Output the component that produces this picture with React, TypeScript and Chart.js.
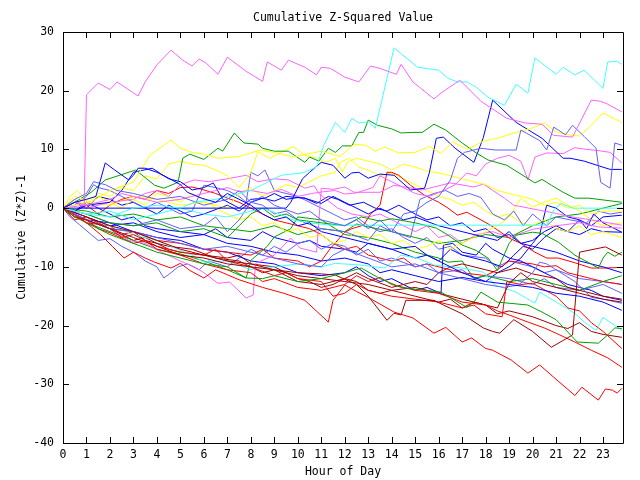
import React, { useEffect, useRef } from "react";
import { Chart, registerables } from "chart.js";

Chart.register(...registerables);

// ---- axis setup ----
const X_MIN = 0;
const X_MAX = 23.85;
const Y_MIN = -40;
const Y_MAX = 30;
const TITLE = "Cumulative Z-Squared Value";
const X_TITLE = "Hour of Day";
const Y_TITLE = "Cumulative (Z*Z)-1";

// ---- series: [hour, value] ----
const magenta1 = [[0,0],[0.9,0.5],[1,19.3],[1.5,21.3],[2,20.2],[2.3,21.5],[3.2,19.1],[3.5,21.5],[4,24.4],[4.6,26.9],[5.1,25.2],[5.5,24.2],[5.8,25.4],[6.1,24.7],[6.6,22.8],[7,25.7],[7.8,23.3],[8.5,21.6],[8.7,24.9],[9.3,23.5],[9.6,25.2],[10.3,24.0],[10.8,22.7],[11,24],[11.4,23.8],[12,22.3],[12.6,21.5],[13.1,24.2],[13.5,23.8],[14.2,22.8],[14.4,24.5],[14.9,21.5],[15.8,18.6],[16.1,19.6],[16.9,21.8],[17.8,18.2],[18.9,15.3],[19.7,14.5],[20.4,14.3],[20.9,12.4],[21.7,12.1],[22.5,18.4],[22.9,18.2],[23.2,17.7],[23.8,16.4]];
const magenta2 = [[0,0],[0.5,1],[1,0.5],[2,1.5],[2.5,2.5],[3,2],[4,1],[5,1.5],[6,2.5],[6.5,3],[7,3.5],[7.5,2.8],[8,3],[8.7,2.5],[9.3,3.2],[10,2],[10.6,2.5],[11.1,2.8],[11.6,3],[12,2.4],[12.5,2.6],[13.2,3.5],[13.5,5.5],[14,4.5],[14.5,3.5],[15,2.5],[15.6,2],[16.2,3],[16.7,4],[17.2,6],[17.6,5.5],[18,7.5],[18.5,8.5],[19,9],[19.5,8],[19.8,4.8],[20.1,8.7],[20.6,9.4],[21.3,9.3],[21.8,10.3],[22.3,10],[22.8,9.8],[23.3,9.5],[23.8,7.7]];
const magenta3 = [[0,0],[0.5,-1],[1,-2],[2,-3.5],[2.8,-5.5],[3.5,-6],[4.2,-7.5],[5,-9],[5.6,-10],[6,-11],[6.6,-12.8],[7.1,-12.6],[7.8,-15.3],[8.1,-14.8],[8.2,-9.4],[9,-8],[9.7,-5.1],[10.1,-6.8],[10.8,-7.5],[11,3.4],[11.5,3.2],[12,3.6],[12.4,2.7],[13.5,2.7],[14.1,3.9],[15.3,3.1],[16.5,4.3],[17.5,3.6],[17.9,4.1],[18.8,1.7],[19.2,0.5],[21,-0.9],[21.7,-1.5],[22.5,-2],[23.8,-2.9]];
const magenta4 = [[0,0],[0.5,1.5],[1,0],[2,1],[3,1.5],[3.5,2.5],[4,3],[4.5,2],[5,4],[5.6,4.8],[6.2,4.5],[7,5],[7.8,5.6],[8.3,4.5],[9,5],[9.6,4.8],[10.3,3.4],[10.7,3.8],[10.9,2.5],[11.7,0],[12.3,-1],[13,-1.5],[13.5,-1],[14,-2],[14.5,-3],[15,-4],[15.5,-3],[16,-5],[16.5,-4.5],[17,-6],[17.6,-4.5],[18.3,-4],[19,-5],[20,-3.6],[21,-3],[22,-2.5],[22.8,-3.2],[23.8,-3.4]];

const cyan1 = [[0,0],[1,-1],[2,-1.5],[3,0],[4,0.5],[5,0],[5.6,1],[6.5,1.5],[7,2],[8,3],[8.5,4],[9.3,5.6],[10.2,6],[10.8,7],[11.1,10.7],[11.6,14.6],[12,12.9],[12.3,15.3],[12.6,14.5],[13,14.7],[13.3,13.6],[14.1,27.3],[15.1,24.0],[16,23.5],[16.4,22.1],[16.8,21.5],[17.2,21.5],[17.6,20.6],[18.1,18.9],[18.8,17.5],[19.3,21.1],[19.8,19.6],[20.1,25.6],[21,22.8],[21.3,24],[21.8,22.7],[22.2,23.5],[23,20.4],[23.2,24.9],[23.6,25],[23.8,24.5]];
const cyan2 = [[0,0],[1,-1],[2,-0.5],[3,-2],[4,-1],[5,0],[6,-1],[7,-1.5],[8,-0.5],[8.5,0],[9.2,-1],[9.8,-2],[10.5,-2.5],[11.4,-2.9],[20.6,-2.9],[20.9,-0.3],[21.2,0.8],[21.7,0],[23.8,0]];
const cyan3 = [[0,0],[0.5,-1.5],[1,-2],[2,-3],[3,-4.5],[4,-5.5],[5,-7.2],[5.5,-8],[6,-9.2],[7,-9],[8,-10.5],[8.3,-10.2],[9,-10],[10,-9.5],[10.4,-9.7],[11,-10],[11.6,-9.4],[12.7,-9.7],[13.7,-10.2],[14.4,-8],[15.1,-8.5],[15.8,-9.7],[17,-10.2],[17.9,-10.9],[18.4,-13.1],[19.3,-14.3],[20.1,-16.2],[20.3,-14.3],[21.8,-17.9],[22.2,-19.4],[22.7,-20.8],[23,-18.6],[23.8,-20.8]];

const green1 = [[0,0],[0.5,1],[1.2,2.7],[1.8,4.8],[3.1,6.5],[3.9,3.9],[4.3,3.4],[4.9,4.4],[5.1,8.5],[5.4,9.2],[6,8.3],[6.6,10.2],[6.8,9.7],[7.3,12.8],[7.7,11.1],[8.3,10.9],[8.5,10.2],[9,9.7],[9.6,9.7],[10.3,7.8],[10.5,8.7],[10.9,8.0],[11.3,10.2],[11.6,9.5],[11.9,10.6],[12.3,10.6],[12.6,12.9],[12.8,12.9],[13,15.0],[13.4,14.1],[14,13.5],[14.4,12.8],[14.9,12.9],[15.3,12.9],[15.8,14.3],[16.3,13.3],[17,11.1],[17.6,9.4],[18.1,8.2],[18.9,7.3],[20.1,4.3],[20.4,4.9],[20.8,3.9],[21.3,2.7],[21.8,1.7],[22.4,1.7],[23,1.4],[23.8,1.0]];
const green2 = [[0,0],[0.5,-1.5],[1,-2.5],[2,-4.5],[3,-6],[4,-7.5],[5,-8.5],[6,-9.5],[7,-10],[7.8,-11.9],[8.5,-12],[9,-11.5],[10,-12.5],[11,-12],[12,-11],[12.7,-10.2],[13.5,-12],[14.4,-13.5],[15,-13.8],[16.1,-14.3],[17.2,-16.9],[17.5,-16],[17.8,-14.3],[18.5,-16],[19.8,-16.5],[20.4,-17.7],[21,-19],[21.9,-22.8],[22.8,-23],[23.2,-21.6],[23.5,-20.4],[23.8,-20.5]];
const green3 = [[0,0],[1,-1],[2,-2.5],[3,-3],[4,-2.5],[5,-4],[6,-3.5],[7,-5],[7.5,-3],[8,-1],[8.5,0],[9,-1.5],[9.5,-1],[10,-2],[11,-2.5],[12,-3],[12.7,-1.5],[13.5,-2.2],[14,-1.8],[15,-2.5],[15.9,-3.4],[16.4,-4.6],[17,-6.3],[17.6,-7.2],[18.1,-8.5],[18.5,-10.6],[19,-6],[19.3,-4.6],[20,-4.1],[20.4,-4.3],[21.1,-5.8],[21.8,-8],[22.8,-10.2],[23,-8.5],[23.2,-7.5],[23.5,-8.2],[23.8,-7.5]];
const green4 = [[0,0],[0.5,-1],[1,-2.5],[2,-4],[3,-5.5],[4,-7],[5,-7.8],[6,-9],[7,-10.5],[7.8,-11.9],[8,-8.9],[8.7,-6.5],[9,-4.9],[9.7,-3.5],[10,-1.5],[11,-2],[11.6,-3.5],[12,-4.5],[13,-5],[14,-6],[15,-7.5],[16,-8.5],[16.4,-9.2],[17,-9],[17.5,-12],[18,-11.5],[19,-12.5],[20,-12],[21,-13],[22,-14],[23,-12.5],[23.8,-11.5]];
const green5 = [[0,0],[1,-0.5],[2,-1.5],[3,-1],[4,-2],[5,-1.5],[6,-3],[7,-3.5],[8,-4],[9,-3],[10,-4.5],[11,-3.5],[12,-4],[12.5,-2.7],[13,-3.2],[14,-4],[15,-5],[16,-6],[17,-5.5],[18,-4.5],[19,-5],[20,-3],[21,-1.5],[22,-1],[23,0],[23.8,0.8]];

const blue1 = [[0,0],[9.5,0],[9.7,1],[10.2,5],[10.5,6.1],[11,7.8],[11.5,7.3],[12,5.1],[12.3,6],[12.6,6.1],[13,5.1],[13.5,5.8],[14.1,5.6],[14.8,3.1],[15.4,3.4],[15.6,6],[15.9,11.9],[16.2,12.1],[16.7,10.2],[17.5,7.8],[17.9,12],[18.3,18.4],[19.3,14.6],[20.4,11.9],[21.3,8.5],[21.6,8.5],[22.2,8],[23.3,6.6],[23.8,6.6]];
const blue2 = [[0,0],[0.5,1],[1,1.5],[1.4,2],[1.8,7.7],[2.2,6.5],[2.8,4.8],[3,5.6],[3.2,6.8],[3.5,6.8],[4,6.1],[4.5,5.1],[5,4],[5.3,2.7],[5.9,1.7],[6.5,1],[7,2.5],[7.5,1.5],[8,0.5],[8.5,-1],[9,-2],[9.5,-1.5],[10,-3],[10.5,-2.5],[11,-4],[12,-5],[13,-6],[14,-7],[15,-6.5],[15.5,-8],[16,-9],[17,-11],[18,-12.5],[19,-13],[20,-13.5],[21,-14.5],[22,-15],[23,-16],[23.8,-17.4]];
const blue3 = [[0,0],[0.5,-0.5],[1,0.5],[2,1],[2.5,3],[3,6.1],[3.8,6.8],[4.5,5],[5,4.5],[5.5,3.1],[6,3.5],[6.4,4.3],[6.8,1.5],[7.5,0],[8,1.5],[8.6,1.7],[9,2.5],[9.5,1.5],[10,1.8],[10.3,1.7],[11,0.8],[11.5,2],[12,1],[13,-1],[13.5,0],[14,-1],[14.5,-2],[15,-1.5],[16,-3],[16.5,-3.5],[17,-4],[18,-5],[18.5,-5.5],[19,-4],[19.5,-6],[20,-6.5],[21,-7.5],[22,-9],[23,-10],[23.8,-11]];
const blue4 = [[0,0],[0.5,-1],[1,-2],[2,-2.5],[3,-4],[4,-5],[5,-5.5],[6,-7],[7,-7.5],[8,-9],[9,-9.5],[10,-11],[11,-11.5],[12,-11],[12.5,-10],[13,-11.5],[13.5,-12.5],[14,-12],[14.5,-13],[15,-14],[15.5,-13.5],[16.1,-14.5],[16.2,-6.3],[16.6,-6],[17,-7.5],[17.6,-8],[18,-6],[18.3,-7],[19,-8.5],[19.5,-9],[20,-10],[20.5,-11],[21,-12],[21.5,-13],[22,-13.5],[22.5,-14],[23,-15],[23.8,-15.7]];
const blue5 = [[0,0],[0.5,-0.5],[1,1],[1.5,0],[2,-1],[2.5,-2],[3,-1.5],[3.5,-3],[4,-3.5],[5,-4],[6,-4.5],[6.5,-3.5],[7,-5],[8,-5.5],[8.5,-4],[9,-5],[10,-6],[10.5,-5.5],[11,-6.5],[12,-7],[12.5,-7.5],[13,-6],[14,-7],[15,-8.5],[15.5,-8],[16,-9],[16.5,-7],[17,-8],[18,-9],[18.7,-10],[19.2,-8],[19.6,-6.5],[20,-7],[20.5,-5],[21,-3.5],[21.5,-4],[22,-2],[22.5,-3],[23,-1.5],[23.8,-1.2]];
const blue6 = [[0,0],[1,-1.5],[2,-3],[3,-2.5],[4,-4],[5,-5],[6,-4.5],[7,-6],[8,-6.5],[9,-7.5],[10,-8],[11,-9],[12,-8.5],[13,-9.5],[13.5,-11],[14,-10.5],[15,-11.5],[16,-12.5],[17,-11.8],[18,-12.5],[18.5,-11],[19,-10],[19.5,-8.5],[20,-6],[20.3,-4.5],[20.6,0.5],[21,0],[21.5,-1.5],[22,-2],[22.3,-3.5],[22.6,-1],[23,-2.5],[23.5,-3.5],[23.8,-4.1]];
const blue7 = [[0,0],[0.5,1],[1,0],[1.5,2],[2,1.5],[2.5,0.5],[3,1],[3.5,0],[4,-1],[4.5,0.5],[5,-0.5],[5.5,-1.5],[6,-1],[7,0.5],[7.5,-0.5],[8,1],[8.5,1.7],[9,1.2],[9.5,2],[10.3,1.7],[10.8,0.8],[11.3,2],[11.7,1.5],[12.2,0.5],[12.8,1],[13.3,0],[13.8,-0.5],[14.3,0.5],[15,-1],[15.5,-2],[16,-1.5],[16.5,-3],[17,-2.5],[17.5,-4],[18,-3.5],[18.5,-5],[19,-4.5],[19.5,-6],[20,-5.5],[20.5,-4],[21,-3],[21.5,-4],[22,-4.5],[22.5,-3.5],[23,-4],[23.8,-4.1]];

const lightblue1 = [[0,0],[0.5,1.5],[1,2.5],[1.3,4.5],[1.8,4],[2.3,3],[3,2.5],[4,1.5],[5,2],[6,0.5],[7,1.5],[7.5,3],[8,1],[8.5,2],[9,0.5],[10,-1],[10.5,-0.5],[11,-2],[12,-3],[12.5,-2],[13,-3.5],[13.5,-2],[14,-4],[14.5,-1],[15,-0.5],[15.5,1],[16,2],[16.5,4.8],[16.8,8.5],[17.1,9.5],[17.8,10.2],[18.4,9.9],[19.3,9.9],[19.5,13.3],[20.3,11.5],[20.6,9.9],[20.9,13.8],[21.4,12.5],[21.7,14.1],[22.2,12.2],[22.7,10.2],[22.9,4.4],[23.3,3.4],[23.5,11.1],[23.8,10.7]];
const lightblue2 = [[0,0],[1,-2],[2,-3.5],[3,-4],[4,-5],[5,-6],[6,-7],[7,-6.5],[8,-7.5],[9,-8.5],[10,-9.5],[11,-10],[11.5,-8],[12,-7],[13,-8.5],[14,-10],[15,-9.5],[16,-11],[17,-12],[18,-13],[18.8,-13.5],[19.4,-13.1],[20,-11],[20.3,-9.2],[20.6,-9.5],[21,-10.5],[21.8,-12.5],[22.5,-15.2],[23,-15.5],[23.8,-16.2]];
const lightblue3 = [[0,0],[1,-1],[2,-2.5],[3,-3],[4,-2],[5,-3.5],[6,-3],[6.5,-1.5],[7,-4],[7.5,-2],[8,1],[8.5,0.5],[9,-1],[9.5,-0.5],[10,-2],[11,-3.5],[12,-4],[13,-5.5],[13.5,-3],[14,-4],[14.8,-5],[15.2,1.5],[15.8,2.5],[16.3,3],[16.8,2],[17.3,2.5],[17.8,1.8],[18.3,-1],[18.8,-2],[19.2,-0.5],[19.6,-3],[20,-1],[20.6,-3],[21,-1.5],[21.6,-2],[22.3,-2.5],[22.8,-0.5],[23.3,-1],[23.8,-0.7]];
const lightblue4 = [[0,0],[0.3,-1.5],[0.7,-2.8],[1.2,-4.5],[1.5,-5.5],[2,-5.2],[2.5,-6.5],[3,-7.5],[3.5,-9],[4,-10],[4.3,-11.9],[4.6,-11],[4.9,-10],[5.3,-9.5],[5.8,-10.5],[6.2,-9],[7,-10],[7.5,-8.5],[8,-7],[8.5,-8],[9,-6.5],[9.5,-7.5],[10,-6],[10.5,-5.5],[11,-7],[11.5,-6],[12,-6.5],[12.5,-8],[13,-7],[13.5,-9],[14,-8.5],[15,-10],[15.5,-9.5],[16,-11],[17,-10.5],[17.5,-12],[18,-11.5],[19,-12],[20,-13],[20.5,-12],[21,-13.5],[22,-14],[23,-13],[23.8,-14.5]];
const lightblue5 = [[0,0],[0.5,0.5],[1,2],[1.3,4],[1.5,3.5],[2,3],[2.5,2],[3,1],[3.5,0],[4,1],[4.5,0],[5,-1],[5.5,-0.5],[6,3.9],[6.5,3.5],[7,3],[7.5,2],[7.8,1],[8,6.1],[8.3,5.5],[8.6,6.5],[9,3],[9.5,2.5],[10,2],[10.5,1],[11,0],[11.5,-1],[12,-2],[12.5,-1.5],[13,-3],[13.5,-4],[14,-3.5],[14.5,-5],[15,-6],[15.5,-5],[16,-7],[16.5,-6.5],[17,-8],[18,-8.5],[18.5,-10],[19,-9],[20,-10],[20.5,-11],[21,-10.5],[22,-12],[23,-12.5],[23.8,-13]];

const red1 = [[0,0],[0.5,-1.2],[1,-2.5],[1.6,-4.5],[2.1,-6.5],[2.6,-8.5],[3,-7.5],[3.5,-8.5],[3.9,-9.2],[4.6,-10.2],[5,-9.4],[5.4,-10.6],[6,-11.9],[6.5,-10.5],[7.5,-12.2],[8.5,-13.5],[9.4,-14.5],[10.3,-15.7],[11.3,-19.4],[11.5,-15.7],[12,-13.1],[12.5,-14.2],[13,-15.2],[14.1,-17.7],[14.9,-18.7],[15.8,-21.3],[16.3,-20.3],[17,-22.8],[17.4,-22.1],[18,-23.9],[18.3,-24.2],[19.1,-25.9],[19.8,-28.1],[20.3,-26.7],[20.9,-28.8],[21.8,-31.9],[22.1,-30.5],[22.8,-32.7],[23.1,-30.8],[23.4,-31],[23.6,-31.5],[23.8,-30.7]];
const red2 = [[0,0],[0.5,-1.5],[1,-2],[1.5,-3.5],[2,-4.2],[3,-6],[3.5,-5.5],[4,-7],[5,-8],[6,-9.5],[7,-10.5],[8,-11],[8.5,-12.5],[9,-12],[10,-13.5],[11,-14],[12,-13],[12.5,-11.5],[13,-12.5],[13.5,-11.8],[14,-13],[15,-14],[16,-14.5],[17,-16],[18,-16.5],[18.5,-17.5],[19,-18.2],[19.8,-19.4],[20.5,-20.4],[21,-21.3],[21.8,-22.8],[22.5,-24.2],[23.2,-25.5],[23.8,-27.1]];
const red3 = [[0,0],[0.5,-2],[1,-1.5],[2,-3.5],[2.5,-5],[3,-4.5],[4,-6.5],[5,-7.5],[6,-8],[6.5,-7],[7,-9],[8,-10],[9,-11.5],[9.5,-11],[10,-12],[11,-12.5],[11.5,-15],[12,-14.5],[12.5,-13],[13,-14],[14,-15],[15,-15.5],[16,-16],[17,-17],[17.5,-16.5],[18,-18],[18.7,-18.5],[18.9,-12.5],[19.5,-13],[20,-12.8],[21,-15],[21.5,-17],[22,-17.5],[22.5,-19.5],[23,-21],[23.8,-23.9]];
const red4 = [[0,0],[0.5,-1],[1,-2.5],[2,-3],[2.5,-4.5],[3,-4],[4,-5.5],[5,-6],[6,-7],[7,-7.5],[8,-8],[8.5,-7],[9,-8.5],[10,-9],[10.5,-10],[11,-9],[11.4,-6.8],[12,-4.1],[12.3,-3.5],[12.8,-2.9],[13.1,-1],[13.5,0.5],[13.8,6.1],[14,6.1],[14.3,5.6],[14.8,3.9],[15.4,2.2],[16,1],[16.4,0],[16.8,-1.2],[17.2,-0.7],[17.8,-2],[18.2,-2.9],[18.5,-3.7],[19,-5.1],[19.5,-6],[20.1,-7.5],[20.6,-8.5],[21.1,-8.5],[21.8,-9.3],[22.5,-10.2],[23,-10.2],[23.8,-10.1]];
const red5 = [[0,0],[0.5,-0.5],[1,0.5],[1.5,-1],[2,0.5],[2.5,1.5],[3,2],[3.5,1.5],[4,3],[4.5,2.5],[5,3.5],[5.5,3.6],[6,3.1],[6.5,2.5],[7,1.7],[7.5,1],[8,0],[8.5,-1],[9,-2],[10,-3],[10.5,-3.5],[11,-4.5],[11.5,-6],[12,-7],[12.5,-6.5],[13,-8],[14,-9],[14.5,-8.5],[15,-10],[15.5,-9.5],[16,-10],[17,-11],[18,-11.5],[18.5,-10.5],[19,-9],[20,-9.5],[20.5,-10],[21,-9.8],[21.5,-11],[22,-11.5],[22.5,-12],[23,-12.5],[23.8,-13]];

const darkred1 = [[0,0],[0.5,-1.5],[1,-2],[2,-3.5],[3,-5],[4,-6.5],[5,-8],[6,-8.5],[7,-9.5],[8,-10],[9,-10.5],[10,-11],[11,-11.2],[11.6,-11.4],[12.5,-13],[13,-15],[13.8,-19.1],[14.1,-17.9],[14.4,-18.2],[14.6,-15.7],[15.8,-15.7],[16.2,-16.5],[17,-18],[17.9,-20.4],[18.3,-21],[18.6,-21.3],[19.2,-19],[20,-21],[20.8,-23.7],[21.7,-21.6],[22,-7.5],[23.1,-6.6],[23.8,-8]];
const darkred2 = [[0,0],[1,-1.5],[2,-3],[3,-4],[4,-5.5],[5,-7],[6,-8],[7,-9],[8,-9.5],[9,-10.5],[10,-11.5],[11,-12],[12,-12.5],[13,-13],[14,-14],[15,-13.5],[16,-14.5],[17,-15.5],[18,-16.5],[18.5,-17],[19,-12.8],[19.5,-11],[20,-12.5],[21,-13.5],[22,-14.5],[23,-15.5],[23.8,-16]];
const darkred3 = [[0,0],[1,-2],[2,-3.5],[3,-4],[3.5,-5.5],[4.5,-6.5],[5.5,-7],[6.5,-8.5],[7.5,-9],[8.5,-11],[9,-10.5],[10,-12.5],[11,-13],[12,-12],[12.5,-11],[13,-12],[14,-13.5],[15,-12.5],[15.5,-13],[16,-11],[16.5,-10],[17,-9.5],[18,-10.5],[18.5,-11],[19.3,-10.2],[20,-11.2],[21,-12],[21.5,-13.5],[22,-14],[23,-15],[23.8,-15.5]];
const darkred4 = [[0,0],[0.5,-1],[1,-2],[2,-3.5],[3,-5.5],[3.5,-5],[4,-6],[4.5,-7],[5,-7.5],[6,-8],[7,-8.5],[7.5,-8],[8,-9.5],[9,-10],[9.5,-11],[10,-12],[10.5,-12.5],[11,-13.5],[11.5,-13],[12,-12],[12.5,-12.5],[13,-14],[13.5,-14.5],[14,-14],[15,-15],[15.5,-15.5],[16,-16],[16.5,-15.5],[17,-17],[17.5,-16],[18,-16.5],[18.5,-18],[19,-17.5],[20,-18.5],[21,-20],[21.5,-20.5],[22,-19.5],[22.5,-21],[23,-21.5],[23.8,-22]];

const yellow1 = [[0,0],[0.5,2],[1.2,1],[2,3],[3,4.4],[3.7,9],[4.6,11.6],[5,10.2],[5.5,9.5],[6,9.2],[6.6,8.5],[7.5,8.8],[8.4,9.9],[9,9.5],[9.8,8.7],[10.4,9.2],[11,9.7],[11.8,8.8],[12.4,10.9],[12.9,10.7],[13.3,9.7],[13.7,10.4],[14.3,9.4],[15,9.5],[15.6,10.5],[16.1,9.3],[16.6,11.3],[17.2,10],[17.9,11.4],[18.6,12],[19.2,12.8],[19.9,13.5],[20.5,14.5],[21,13],[21.5,12.5],[22,12.3],[22.5,14.1],[23,16.2],[23.8,14.6]];
const yellow2 = [[0,0],[0.5,1.5],[1,0.5],[1.5,2.5],[2,2],[2.5,3.5],[3,3],[3.5,5.5],[4,5],[4.5,7.5],[5,8],[5.5,7.5],[6,7.3],[6.5,6.5],[7,5.5],[7.5,3.5],[8,6],[8.3,9.6],[8.8,8.5],[9.3,9.5],[9.8,10.5],[10.3,9],[10.8,8.5],[11.2,7.8],[11.6,8.5],[11.9,6.1],[12.1,7.8],[12.5,8.5],[13,8],[13.5,7.5],[14,6.5],[14.5,7.5],[15,7],[15.5,6.3],[16,6],[16.5,5.5],[17,5],[17.5,4.5],[18,4],[18.5,3],[19,2.5],[19.5,2],[20,1.5],[20.5,0.5],[21,1],[21.5,0],[22,0.5],[22.5,-1],[23,-0.5],[23.8,-0.5]];
const yellow3 = [[0,0],[0.3,2],[0.6,3],[1,1.5],[1.5,2],[2,1],[2.5,0],[3,1.5],[3.5,0.5],[4,2.5],[4.5,2],[5,1],[5.5,2.5],[6,1.5],[6.5,0],[7,-1],[7.5,-2],[8,-1.5],[8.5,-3],[9,-2.5],[9.5,-4],[10,-3.5],[10.5,-5],[11,-4.5],[11.5,-6],[12,-5.5],[12.5,-4],[13,-5],[13.5,-4.5],[14,-6],[14.5,-5.5],[15,-7],[15.5,-6.5],[16,-5.5],[16.5,-7],[17,-6],[17.5,-5],[18,-4],[18.5,-3],[19,-1.5],[19.5,1.7],[20,0.2],[20.5,1],[21,1.7],[21.5,0.5],[22,-0.5],[22.5,-2],[23,-3],[23.8,-2.5]];
const yellow4 = [[0,0],[1,1],[2,0.5],[3,2],[4,1.5],[5,0.5],[6,1],[7,0],[7.5,2.5],[8,3.5],[8.5,2],[9,3],[9.5,4],[10,3.5],[10.5,4.5],[11,5.5],[11.6,6.1],[11.8,7.8],[12.2,8.5],[12.6,7],[13,6.5],[13.5,5.5],[14,6],[14.5,5],[15,4],[15.5,3],[16,2],[16.5,1.5],[17,0.5],[17.5,1],[18,-0.5],[18.5,-1.5],[19,-1],[19.5,-2.5],[20,-3],[20.5,-2],[21,-3.5],[21.5,-4],[22,-3],[22.5,-4.5],[23,-4],[23.8,-5]];

// ---- colours ----
const RED = "#ff0000";
const GREEN = "#00a000";
const BLUE = "#0000ff";
const MAGENTA = "#ff60ff";
const CYAN = "#40ffff";
const DARKRED = "#a00000";
const LIGHTBLUE = "#6060ff";
const YELLOW = "#ffff00";

const SERIES: [number[][], string][] = [
  [red1, RED], [green2, GREEN], [blue2, BLUE], [magenta1, MAGENTA], [cyan1, CYAN], [darkred1, DARKRED], [lightblue1, LIGHTBLUE], [yellow1, YELLOW],
  [red2, RED], [green1, GREEN], [blue1, BLUE], [magenta2, MAGENTA], [cyan2, CYAN], [darkred2, DARKRED], [lightblue2, LIGHTBLUE], [yellow2, YELLOW],
  [red3, RED], [green3, GREEN], [blue3, BLUE], [magenta3, MAGENTA], [cyan3, CYAN], [darkred3, DARKRED], [lightblue3, LIGHTBLUE], [yellow3, YELLOW],
  [red4, RED], [green4, GREEN], [blue4, BLUE], [magenta4, MAGENTA], [darkred4, DARKRED], [lightblue4, LIGHTBLUE], [yellow4, YELLOW],
  [red5, RED], [green5, GREEN], [blue5, BLUE], [lightblue5, LIGHTBLUE], [blue6, BLUE], [blue7, BLUE],
];

const FONT = "'DejaVu Sans Mono', 'Liberation Mono', monospace";

const framePlugin = {
  id: "gnuplotFrame",
  afterDraw(chart: any) {
    const { ctx, chartArea } = chart;
    const { left, right, top, bottom } = chartArea;
    const xs = chart.scales.x;
    const ys = chart.scales.y;
    ctx.save();
    ctx.strokeStyle = "#000";
    ctx.lineWidth = 1;
    ctx.beginPath();
    ctx.rect(Math.round(left) + 0.5, Math.round(top) + 0.5, Math.round(right - left), Math.round(bottom - top));
    const TL = 6;
    xs.ticks.forEach((t: any) => {
      const px = Math.round(xs.getPixelForValue(t.value)) + 0.5;
      ctx.moveTo(px, bottom);
      ctx.lineTo(px, bottom - TL);
      ctx.moveTo(px, top);
      ctx.lineTo(px, top + TL);
    });
    ys.ticks.forEach((t: any) => {
      const py = Math.round(ys.getPixelForValue(t.value)) + 0.5;
      ctx.moveTo(left, py);
      ctx.lineTo(left + TL, py);
      ctx.moveTo(right, py);
      ctx.lineTo(right - TL, py);
    });
    ctx.stroke();
    // chart title
    ctx.fillStyle = "#000";
    ctx.font = `11.5px ${FONT}`;
    ctx.textAlign = "center";
    ctx.textBaseline = "middle";
    ctx.fillText(TITLE, (left + right) / 2, 18);
    ctx.restore();
  },
};

export default function App() {
  const ref = useRef<HTMLCanvasElement | null>(null);
  useEffect(() => {
    if (!ref.current) return;
    const datasets = SERIES.map(([pts, color], i) => ({
      label: `s${i}`,
      data: pts.map(([x, y]) => ({ x, y })),
      borderColor: color,
      backgroundColor: color,
      borderWidth: 1,
      pointRadius: 0,
      tension: 0,
      fill: false,
    }));
    const chart = new Chart(ref.current, {
      type: "line",
      data: { datasets },
      options: {
        animation: false,
        responsive: false,
        devicePixelRatio: 1,
        layout: { padding: { left: 0, right: 17, top: 32, bottom: 0 } },
        plugins: { legend: { display: false }, tooltip: { enabled: false }, title: { display: false } },
        scales: {
          x: {
            type: "linear",
            min: X_MIN,
            max: X_MAX,
            grid: { display: false, drawTicks: false },
            border: { display: false },
            afterBuildTicks: (s: any) => { s.ticks = s.ticks.filter((t: any) => Number.isInteger(t.value)); },
            afterFit: (s: any) => { s.height = 37; },
            ticks: { stepSize: 1, includeBounds: false, autoSkip: false, maxRotation: 0, padding: 5, color: "#000", font: { family: FONT, size: 11.5 } },
            title: { display: true, text: X_TITLE, color: "#000", font: { family: FONT, size: 11.5 }, padding: { top: 0, bottom: 1 } },
          },
          y: {
            type: "linear",
            min: Y_MIN,
            max: Y_MAX,
            grid: { display: false, drawTicks: false },
            border: { display: false },
            afterFit: (s: any) => { s.width = 63; },
            ticks: { stepSize: 10, padding: 9, color: "#000", font: { family: FONT, size: 11.5 } },
            title: { display: true, text: Y_TITLE, color: "#000", font: { family: FONT, size: 11.5 }, padding: { top: 15, bottom: 0 } },
          },
        },
      },
      plugins: [framePlugin],
    });
    return () => chart.destroy();
  }, []);
  return (
    <div style={{ position: "fixed", left: 0, top: 0, width: 640, height: 480, background: "#fff" }}>
      <canvas ref={ref} width={640} height={480} style={{ width: 640, height: 480 }} />
    </div>
  );
}
